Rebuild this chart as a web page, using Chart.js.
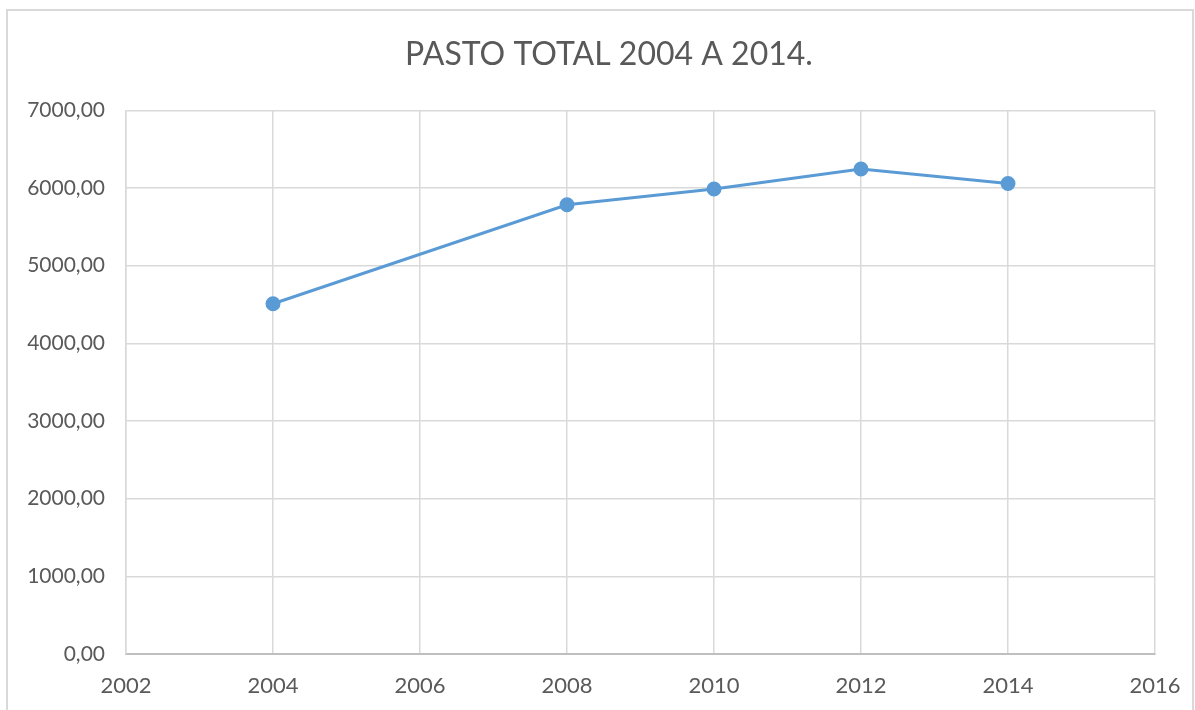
<!DOCTYPE html>
<html>
<head>
<meta charset="utf-8">
<script src="https://cdn.jsdelivr.net/npm/chart.js@4/dist/chart.umd.min.js"></script>
<style>
  html, body { margin: 0; padding: 0; background: #fff; overflow: hidden; width: 1195px; height: 710px; }
  #marco { position: absolute; left: 6px; top: 9px; width: 1184px; height: 720px; border: 2px solid #d9d9d9; border-bottom: none; z-index: 2; pointer-events: none; }
  #caja { position: absolute; left: 0; top: 0; width: 1195px; height: 710px; }
</style>
</head>
<body>
<div id="marco"></div>
<div id="caja"><canvas id="grafico"></canvas></div>
<script>
const anios = [2004, 2008, 2010, 2012, 2014];
const pasto = [4510, 5785, 5987, 6245, 6059];
const pasoY = 1000;
const pasoX = 2;

const gris = "#595959";
const fuente = "Lato, 'Open Sans', sans-serif";

const puntos = anios.map((a, i) => ({ x: a, y: pasto[i] }));

// el título en Excel va centrado sobre el marco, no sobre el lienzo
const moverTitulo = {
  id: "moverTitulo",
  afterLayout(c) {
    if (c.titleBlock) c.titleBlock.left += 63;
  }
};

new Chart(document.getElementById("grafico"), {
  type: "line",
  data: {
    datasets: [{
      label: "Pasto total",
      data: puntos,
      borderColor: "#5b9bd5",
      backgroundColor: "#5b9bd5",
      borderWidth: 3,
      pointRadius: 6,
      pointHoverRadius: 6,
      tension: 0
    }]
  },
  options: {
    responsive: true,
    maintainAspectRatio: false,
    animation: false,
    layout: { padding: { left: 0, right: 40, top: 0, bottom: 0 } },
    plugins: {
      legend: { display: false },
      tooltip: { enabled: false },
      title: {
        display: true,
        text: "PASTO TOTAL 2004 A 2014.",
        color: gris,
        font: { family: fuente, size: 32, weight: "normal" },
        padding: { top: 35, bottom: 37 }
      }
    },
    scales: {
      x: {
        type: "linear",
        min: 2002,
        max: 2016,
        ticks: {
          stepSize: pasoX,
          color: gris,
          padding: 19,
          font: { family: fuente, size: 22 },
          callback: v => String(v)
        },
        grid: { color: "#d9d9d9", lineWidth: 1.5, drawTicks: false },
        border: { color: "#bfbfbf", width: 2 },
        afterFit: s => { s.height = 56; s.paddingLeft = 0; s.paddingRight = 0; }
      },
      y: {
        min: 0,
        max: 7000,
        ticks: {
          stepSize: pasoY,
          color: gris,
          padding: 21,
          font: { family: fuente, size: 21 },
          callback: v => Number(v).toFixed(2).replace(".", ",")
        },
        grid: { color: "#d9d9d9", lineWidth: 1.5, drawTicks: false },
        border: { color: "#d9d9d9", width: 1.5 },
        afterFit: s => { s.width = 126; s.paddingTop = 0; s.paddingBottom = 0; }
      }
    }
  },
  plugins: [moverTitulo]
});
</script>
</body>
</html>
